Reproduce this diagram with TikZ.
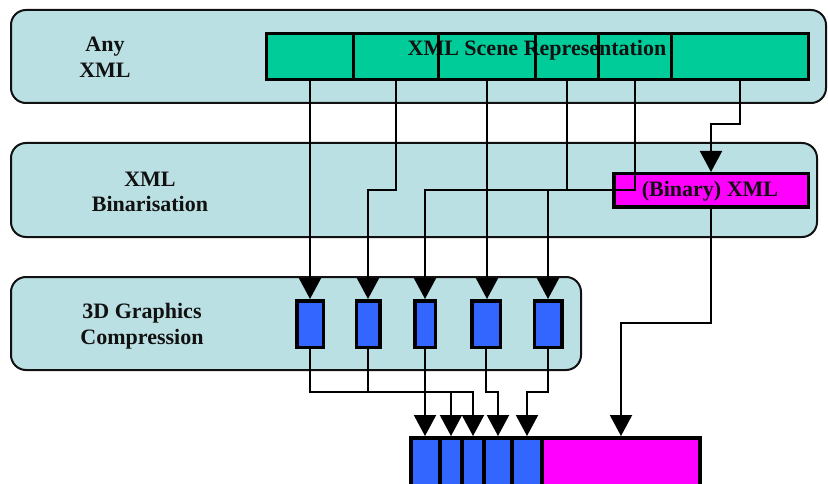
\documentclass[tikz,border=0pt]{standalone}
\usepackage{fontspec}
\setmainfont{Liberation Serif}
\usetikzlibrary{arrows.meta,calc}

\definecolor{bandfill}{HTML}{BBE0E3}
\definecolor{scenegreen}{HTML}{00CC99}
\definecolor{meshblue}{HTML}{3366FF}
\definecolor{binmagenta}{HTML}{FF00FF}
\definecolor{ink}{HTML}{111111}

\tikzset{
  band/.style={rectangle, draw=ink, line width=2pt, fill=bandfill, rounded corners=15pt, inner sep=0pt},
  bandlabel/.style={font=\bfseries\fontsize{22}{25.5}\selectfont, align=center, text=ink},
  boxtext/.style={font=\bfseries\fontsize{22}{25.5}\selectfont, text=ink, inner sep=0pt},
  scenecell/.style={rectangle, fill=scenegreen, inner sep=0pt, outer sep=0pt, minimum height=46},
  meshbox/.style={rectangle, draw=black, line width=3.5pt, fill=meshblue, inner sep=0pt, minimum height=46.5},
  streamcell/.style={rectangle, draw=black, line width=3.5pt, inner sep=0pt, minimum height=52.25},
  wire/.style={draw=black, line width=2pt},
  feed/.style={wire, -{Triangle[width=22pt,length=21pt]}},
}

\begin{document}
\begin{tikzpicture}[x=1pt,y=-1pt]
  \useasboundingbox (0,0) rectangle (828,484);
  \clip (0,0) rectangle (828,484);

  % the three processing stages
  \node[band, minimum width=815, minimum height=93] (stageany) at (418.5,56.5) {};
  \node[band, minimum width=806, minimum height=94] (stagebin) at (414,190) {};
  \node[band, minimum width=570, minimum height=93] (stagecomp) at (296,323.5) {};

  \node[bandlabel] (lblany)  at (105,57)  {Any\\XML};
  \node[bandlabel] (lblbin)  at (150,192) {XML\\Binarisation};
  \node[bandlabel] (lblcomp) at (142,326) {3D Graphics\\Compression};

  % scene representation split into parts
  \node[scenecell, minimum width=87]  (g1) at (310,56.5) {};
  \node[scenecell, minimum width=85]  (g2) at (396,56.5) {};
  \node[scenecell, minimum width=97]  (g3) at (487,56.5) {};
  \node[scenecell, minimum width=63]  (g4) at (567,56.5) {};
  \node[scenecell, minimum width=73]  (g5) at (635,56.5) {};
  \node[scenecell, minimum width=137] (g6) at (740,56.5) {};
  \node[boxtext] (scenetitle) at (537,50) {XML Scene Representation};
  \foreach \c in {g1,g2,g3,g4,g5,g6}
    \draw[line width=3.5pt] (\c.north west) rectangle (\c.south east);

  % binary XML container
  \node[rectangle, draw=black, line width=3.5pt, fill=binmagenta, inner sep=0pt,
        minimum width=194.5, minimum height=33.5] (bin) at (711,190.5) {};
  \node[boxtext] (bintext) at (710,191) {(Binary) XML};

  % compressed geometry streams
  \node[meshbox, minimum width=26.5] (b1) at (310,324) {};
  \node[meshbox, minimum width=23.5] (b2) at (368,324) {};
  \node[meshbox, minimum width=20.5] (b3) at (425,324) {};
  \node[meshbox, minimum width=28.5] (b4) at (486,324) {};
  \node[meshbox, minimum width=27.5] (b5) at (548,324) {};

  % multiplexed output stream
  \node[streamcell, fill=meshblue, minimum width=29.25] (c1) at (425.4,463.9) {};
  \node[streamcell, fill=meshblue, minimum width=22]    (c2) at (451,463.9) {};
  \node[streamcell, fill=meshblue, minimum width=22]    (c3) at (473,463.9) {};
  \node[streamcell, fill=meshblue, minimum width=28]    (c4) at (498,463.9) {};
  \node[streamcell, fill=meshblue, minimum width=30]    (c5) at (527,463.9) {};
  \node[streamcell, fill=binmagenta, minimum width=158] (c6) at (621,463.9) {};

  % routing rows
  \coordinate (jogA) at (0,190);
  \coordinate (jogB) at (0,124);
  \coordinate (jogC) at (0,323);
  \coordinate (jogD) at (0,392);

  % scene parts to their encoders
  \draw[feed] (g1.south) -- (g1.south |- b1.north);
  \draw[feed] (g2.south) -- (g2.south |- jogA) -| (b2.north);
  \draw[feed] (g3.south) -- (g3.south |- b4.north);
  \draw[feed] (g4.south) -- (g4.south |- jogA) -| (b3.north);
  \draw[feed] (g5.south) -- (g5.south |- jogA) -| (b5.north);
  \draw[feed] (g6.south) -- (g6.south |- jogB) -| (bin.north);

  % encoders and binary XML into the output stream
  \draw[feed] (bin.south) -- (bin.south |- jogC) -| (c6.north);
  \draw[feed] (b1.south) -- (b1.south |- jogD) -| (c2.north);
  \draw[feed] (b2.south) -- (b2.south |- jogD) -| (c3.north);
  \draw[feed] (b3.south) -- (b3.south |- c1.north);
  \draw[feed] (b4.south) -- (b4.south |- jogD) -| (c4.north);
  \draw[feed] (b5.south) -- (b5.south |- jogD) -| (c5.north);
\end{tikzpicture}
\end{document}
